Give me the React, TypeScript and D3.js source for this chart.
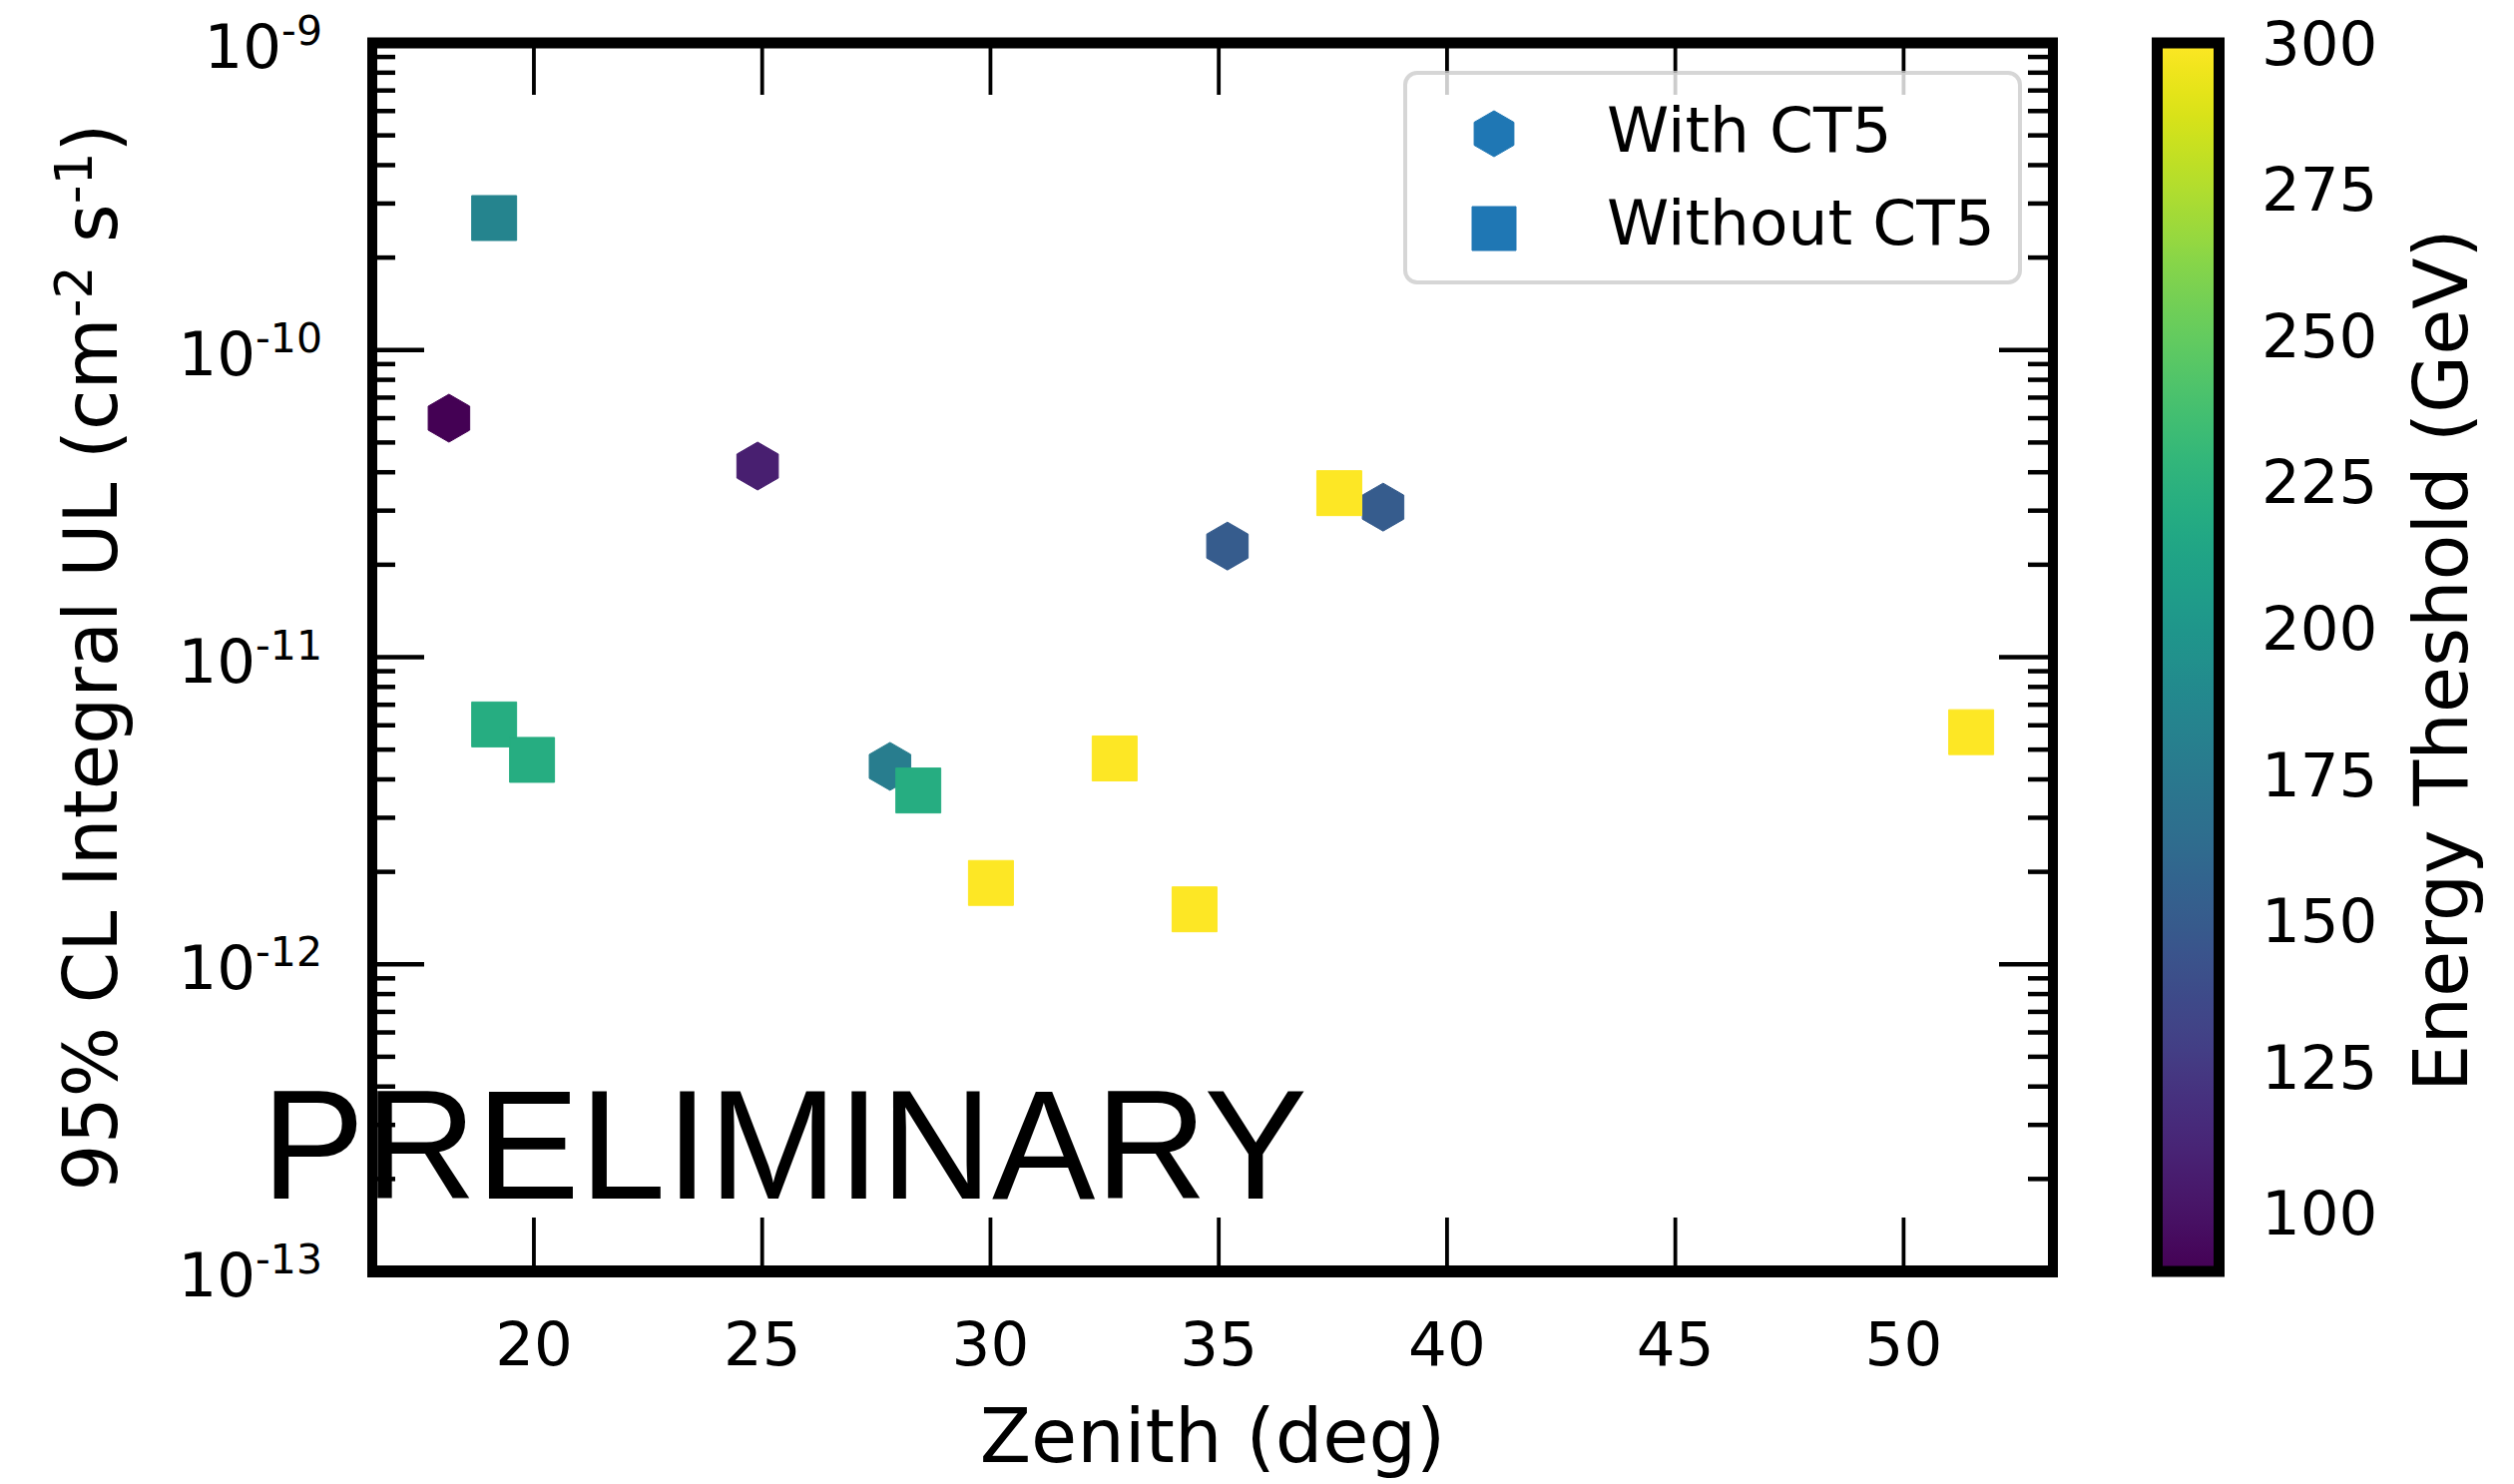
import React, { useEffect } from 'react';
import * as d3 from 'd3';

const W = 2519;
const H = 1487;

// With CT5 (hexagons)
const withZenith = [18.14, 24.9, 27.8, 35.19, 38.6];
const withUL = [6.0e-11, 4.19e-11, 4.41e-12, 2.3e-11, 3.08e-11];
const withEnergy = [90.1, 108, 178, 150, 150];

// Without CT5 (squares)
const withoutZenith = [19.13, 19.13, 19.96, 28.42, 30.01, 32.72, 34.47, 37.64, 51.48];
const withoutUL = [2.69e-10, 6.04e-12, 4.63e-12, 3.68e-12, 1.84e-12, 4.68e-12, 1.51e-12, 3.42e-11, 5.7e-12];
const withoutEnergy = [185, 220, 220, 220, 300, 300, 300, 300, 300];

const xTicks = [20, 25, 30, 35, 40, 45, 50];
const yTickExps = [-9, -10, -11, -12, -13];
const cbTicks = [100, 125, 150, 175, 200, 225, 250, 275, 300];
const legendLabels = ['With CT5', 'Without CT5'];

const FONT = 'DejaVu Sans';

const M = { left: 373, right: 2057, top: 43, bottom: 1274 };
const CB = { left: 2161.5, right: 2223.5 };

const symbolHex = {
  draw(ctx: any, size: number) {
    const r = Math.sqrt(size);
    for (let i = 0; i < 6; i++) {
      const a = -Math.PI / 2 + (i * Math.PI) / 3;
      const px = r * Math.cos(a);
      const py = r * Math.sin(a);
      if (i === 0) ctx.moveTo(px, py);
      else ctx.lineTo(px, py);
    }
    ctx.closePath();
  },
};

export default function App() {
  useEffect(() => {
    document.body.style.margin = '0';
  }, []);

  const x = d3.scaleLinear().domain([16.46, 53.27]).range([M.left, M.right]);
  const y = d3.scaleLog().domain([1e-13, 1e-9]).range([M.bottom, M.top]);
  const allE = [...withEnergy, ...withoutEnergy];
  const ext = d3.extent(allE) as [number, number];
  const color = d3.scaleSequential(d3.interpolateViridis).domain(ext);
  const cbY = d3.scaleLinear().domain(ext).range([M.bottom, M.top]);

  const hexPath = d3.symbol(symbolHex as any, 24 * 24)() as string;
  const sqPath = d3.symbol(d3.symbolSquare, 45 * 45)() as string;
  const legHexPath = d3.symbol(symbolHex as any, 23 * 23)() as string;
  const legSqPath = d3.symbol(d3.symbolSquare, 44 * 44)() as string;

  const minorVals: number[] = [];
  for (let k = -13; k < -9; k++) {
    for (let m = 2; m <= 9; m++) minorVals.push(m * Math.pow(10, k));
  }

  const stops = d3.range(0, 1.0001, 0.02);

  return (
    <div style={{ position: 'absolute', left: 0, top: 0, width: W, height: H, background: '#fff' }}>
      <svg width={W} height={H} viewBox={`0 0 ${W} ${H}`} style={{ display: 'block' }}>
        <defs>
          <linearGradient id="viridisGrad" x1="0" y1="1" x2="0" y2="0">
            {stops.map((t) => (
              <stop key={t} offset={t} stopColor={d3.interpolateViridis(t)} />
            ))}
          </linearGradient>
        </defs>
        <rect x={0} y={0} width={W} height={H} fill="#fff" />

        {/* markers: hexagons then squares */}
        {withZenith.map((z, i) => (
          <path
            key={'h' + i}
            d={hexPath}
            transform={`translate(${x(z)},${y(withUL[i])})`}
            fill={color(withEnergy[i])}
            stroke={color(withEnergy[i])}
            strokeWidth={1}
            strokeLinejoin="round"
          />
        ))}
        {withoutZenith.map((z, i) => (
          <path
            key={'s' + i}
            d={sqPath}
            transform={`translate(${x(z)},${y(withoutUL[i])})`}
            fill={color(withoutEnergy[i])}
            stroke={color(withoutEnergy[i])}
            strokeWidth={1}
            strokeLinejoin="round"
          />
        ))}

        {/* x ticks */}
        {xTicks.map((t) => (
          <g key={'xt' + t}>
            <line x1={x(t)} x2={x(t)} y1={M.bottom} y2={M.bottom - 54} stroke="#000" strokeWidth={3.8} />
            <line x1={x(t)} x2={x(t)} y1={M.top} y2={M.top + 52} stroke="#000" strokeWidth={3.8} />
            <text x={x(t)} y={1368} textAnchor="middle" fontFamily={FONT} fontSize={61} fill="#000">
              {t}
            </text>
          </g>
        ))}

        {/* y ticks */}
        {yTickExps.map((e) => {
          const ty = y(Math.pow(10, e));
          return (
            <g key={'yt' + e}>
              <line x1={M.left} x2={M.left + 52} y1={ty} y2={ty} stroke="#000" strokeWidth={4.5} />
              <line x1={M.right} x2={M.right - 54} y1={ty} y2={ty} stroke="#000" strokeWidth={4.5} />
              <text x={323} y={ty + 25} textAnchor="end" fontFamily={FONT} fontSize={61} fill="#000">
                <tspan>10</tspan>
                <tspan dy={-23} fontSize={41}>{`-${-e}`}</tspan>
              </text>
            </g>
          );
        })}
        {minorVals.map((v, i) => (
          <g key={'ym' + i}>
            <line x1={M.left} x2={M.left + 23} y1={y(v)} y2={y(v)} stroke="#000" strokeWidth={4.5} />
            <line x1={M.right} x2={M.right - 25} y1={y(v)} y2={y(v)} stroke="#000" strokeWidth={4.5} />
          </g>
        ))}

        {/* spines */}
        <line x1={M.left - 5} x2={M.right + 5} y1={M.top} y2={M.top} stroke="#000" strokeWidth={11} />
        <line x1={M.left - 5} x2={M.right + 5} y1={M.bottom} y2={M.bottom} stroke="#000" strokeWidth={12} />
        <line x1={M.left} x2={M.left} y1={M.top} y2={M.bottom} stroke="#000" strokeWidth={10} />
        <line x1={M.right} x2={M.right} y1={M.top} y2={M.bottom} stroke="#000" strokeWidth={10} />

        {/* axis labels */}
        <text
          x={(M.left + M.right) / 2}
          y={1465}
          textAnchor="middle"
          fontFamily={FONT}
          fontSize={75}
          fill="#000"
        >
          Zenith (deg)
        </text>
        <text
          transform={`translate(117,${(M.top + M.bottom) / 2}) rotate(-90)`}
          textAnchor="middle"
          fontFamily={FONT}
          fontSize={74}
          fill="#000"
        >
          <tspan>95% CL Integral UL (cm</tspan>
          <tspan dy={-25} fontSize={52}>-2</tspan>
          <tspan dy={25}> s</tspan>
          <tspan dy={-25} fontSize={52}>-1</tspan>
          <tspan dy={25}>)</tspan>
        </text>

        {/* legend */}
        <rect
          x={1408}
          y={73}
          width={616}
          height={210}
          rx={12}
          ry={12}
          fill="#fff"
          fillOpacity={0.8}
          stroke="#cccccc"
          strokeOpacity={0.8}
          strokeWidth={4}
        />
        {legendLabels.map((lab, i) => (
          <g key={lab}>
            <path
              d={i === 0 ? legHexPath : legSqPath}
              transform={`translate(1497,${i === 0 ? 134 : 229})`}
              fill="#1f77b4"
              stroke="#1f77b4"
              strokeWidth={1}
              strokeLinejoin="round"
            />
            <text x={1610} y={i === 0 ? 152 : 245} fontFamily={FONT} fontSize={63} fill="#000">
              {lab}
            </text>
          </g>
        ))}

        {/* colorbar */}
        <rect
          x={CB.left}
          y={cbY(ext[1])}
          width={CB.right - CB.left}
          height={cbY(ext[0]) - cbY(ext[1])}
          fill="url(#viridisGrad)"
          stroke="#000"
          strokeWidth={11}
        />
        {cbTicks.map((t) => (
          <text key={'cb' + t} x={2266} y={cbY(t) + 21.5} fontFamily={FONT} fontSize={61} fill="#000">
            {t}
          </text>
        ))}
        <text
          transform={`translate(2472,${(M.top + M.bottom) / 2 + 3}) rotate(-90)`}
          textAnchor="middle"
          fontFamily={FONT}
          fontSize={75}
          fill="#000"
        >
          Energy Theshold (GeV)
        </text>

        {/* watermark */}
        <text x={262} y={1201} fontFamily="Liberation Sans" fontSize={155} fill="#000">
          PRELIMINARY
        </text>
      </svg>
    </div>
  );
}
